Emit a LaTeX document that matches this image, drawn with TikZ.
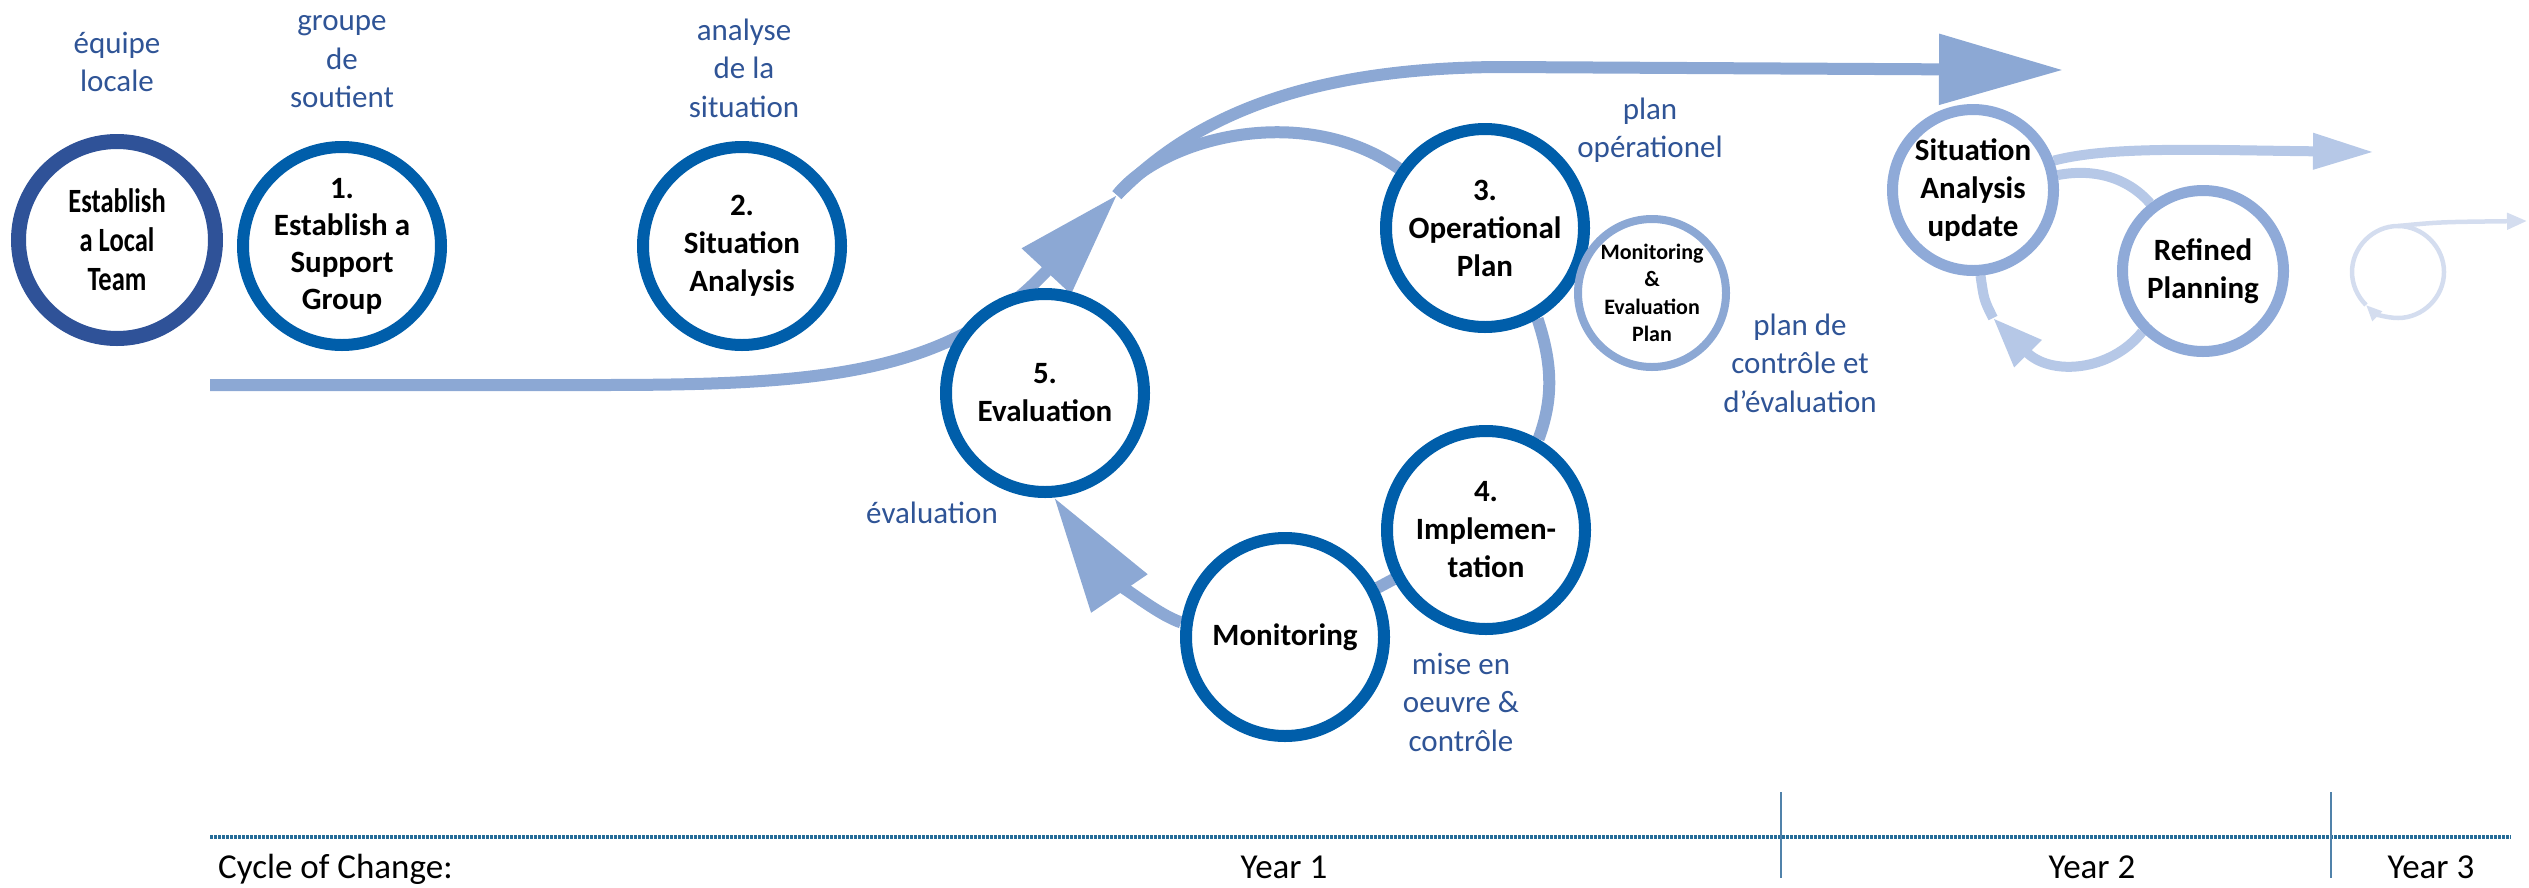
\documentclass[tikz,border=0pt]{standalone}
\usepackage{fontspec}
\setmainfont{Carlito}
\newfontfamily\narrowfont[FakeStretch=0.78]{Carlito}
\usetikzlibrary{arrows.meta, backgrounds}
\definecolor{bluering}{RGB}{0,94,170}
\definecolor{navyring}{RGB}{47,82,152}
\definecolor{lineA}{RGB}{140,168,212}
\definecolor{ringB}{RGB}{143,170,216}
\definecolor{lineB}{RGB}{182,200,231}
\definecolor{lineC}{RGB}{212,221,239}
\definecolor{frblue}{RGB}{47,84,150}
\definecolor{rulecol}{RGB}{38,108,152}
\definecolor{tickcol}{RGB}{80,130,170}

\begin{document}
\begin{tikzpicture}[x=1pt, y=-1pt,
    stage/.style={circle, draw=bluering, line width=12pt, fill=white, minimum size=198pt, inner sep=0pt, align=center, font=\bfseries\fontsize{31}{38}\selectfont},
    substage/.style={circle, draw=lineA, line width=8pt, fill=white, minimum size=148pt, inner sep=0pt, align=center, font=\bfseries\fontsize{22}{27.5}\selectfont},
    update/.style={circle, draw=ringB, line width=11pt, fill=white, minimum size=161pt, inner sep=0pt, align=center, font=\bfseries\fontsize{31}{38}\selectfont},
    frtext/.style={text=frblue, align=center, inner sep=0pt, font=\fontsize{31}{38.5}\selectfont},
    yeartext/.style={anchor=base, inner sep=0pt, font=\fontsize{35}{40}\selectfont},
    flow/.style={draw=lineA, line width=12pt},
    flowlight/.style={draw=lineB, line width=10pt},
    flowfaint/.style={draw=lineC, line width=4.5pt}]
    \useasboundingbox (0, 0) rectangle (2529, 887);

    \node (LT) [stage, draw=navyring, line width=15pt, minimum size=197pt, font=\narrowfont\bfseries\fontsize{34}{39}\selectfont] at (117, 240) {Establish\\a Local\\Team};
    \node (SG) [stage, font=\bfseries\fontsize{31}{37}\selectfont] at (342, 246) {1.\\Establish a\\Support\\Group};
    \node (SA) [stage] at (742, 246) {2.\\Situation\\Analysis};
    \node (EV) [stage] at (1045, 393) {5.\\Evaluation};
    \node (OP) [stage] at (1485, 228) {3.\\Operational\\Plan};
    \node (IM) [stage] at (1486, 530) {4.\\Implemen-\\tation};
    \node (MO) [stage] at (1285, 637) {Monitoring};
    \node (MEP) [substage] at (1652, 293) {Monitoring\\\&\\Evaluation\\Plan};
    \node (SAU) [update] at (1973, 190) {Situation\\Analysis\\update};
    \node (RP) [update] at (2203, 271) {Refined\\Planning};

    \node (LTtxt) [frtext] at (117, 62) {équipe\\locale};
    \node (SGtxt) [frtext] at (342, 62) {groupe\\de\\soutient};
    \node (SAtxt) [frtext] at (744, 68) {analyse\\de la\\situation};
    \node (OPtxt) [frtext] at (1650, 130) {plan\\opérationel};
    \node (MEPtxt) [frtext] at (1800, 363) {plan de\\contrôle et\\d’évaluation};
    \node (EVtxt) [frtext] at (932, 513) {évaluation};
    \node (MOtxt) [frtext] at (1461, 702) {mise en\\oeuvre \&\\contrôle};

    \coordinate (IN) at (210, 385);
    \coordinate (FK) at (1117, 195);
    \coordinate (TOP) at (2063, 70);
    \coordinate (Y2OUT) at (2374, 152);
    \coordinate (Y2LOOP) at (1993, 318);
    \coordinate (Y3T) at (2398, 226);
    \coordinate (Y3A) at (2366, 305);
    \coordinate (Y3OUT) at (2527, 221);

    \begin{pgfonlayer}{background}
        \draw[flow, -{Triangle[length=104pt, width=64pt]}] (IN) -- (600, 385) .. controls (820, 385) and (950, 375) .. (FK);
        \draw[flow, -{Triangle[length=124pt, width=68pt]}] (FK) .. controls (1190, 120) and (1300, 68) .. (1500, 67) -- (TOP);
        \draw[flow] (FK) .. controls (1160, 140) and (1300, 100) .. (OP);
        \draw[flow] (OP.-60) .. controls (1553, 365) and (1553, 400) .. (IM.60);
        \draw[flow] (IM) -- (MO);
        \draw[flow, -{Triangle[length=116pt, width=65pt]}] (MO.172) .. controls (1150, 612) and (1100, 565) .. (EV.-85);

        \draw[flowlight, -{Triangle[length=61pt, width=34pt]}] (SAU.20) .. controls (2110, 146) and (2200, 150) .. (Y2OUT);
        \draw[flowlight] (SAU.10) .. controls (2095, 168) and (2128, 178) .. (RP.128);
        \draw[flowlight, -{Triangle[length=50pt, width=36pt]}] (RP.225) .. controls (2110, 372) and (2050, 376) .. (Y2LOOP);
        \draw[flowlight] (Y2LOOP) .. controls (1984, 300) .. (SAU.275);

        \draw[flowfaint, -{Triangle[length=16pt, width=13pt]}] (Y3T) .. controls (2423, 226) and (2444, 247) .. (2444, 272) .. controls (2444, 297) and (2423, 318) .. (2398, 318) .. controls (2386, 318) and (2374, 313) .. (Y3A);
        \draw[flowfaint] (Y3A) .. controls (2357, 296) and (2352, 284) .. (2352, 272) .. controls (2352, 247) and (2373, 226) .. (Y3T);
        \draw[flowfaint, -{Triangle[length=20pt, width=16pt]}] (Y3T) .. controls (2440, 222) .. (Y3OUT);
    \end{pgfonlayer}

    \coordinate (TL0) at (210, 837);
    \coordinate (TL1) at (2511, 837);
    \draw[rulecol, line width=4pt, dash pattern=on 2.5pt off 1.5pt] (TL0) -- (TL1);
    \draw[tickcol, line width=1.5pt] (1781, 792) -- (1781, 878);
    \draw[tickcol, line width=1.5pt] (2331, 792) -- (2331, 878);

    \node (CY) [yeartext, anchor=base west] at (218, 878) {Cycle of Change:};
    \node (Y1) [yeartext] at (1284, 878) {Year 1};
    \node (Y2) [yeartext] at (2092, 878) {Year 2};
    \node (Y3) [yeartext] at (2431, 878) {Year 3};
\end{tikzpicture}
\end{document}
